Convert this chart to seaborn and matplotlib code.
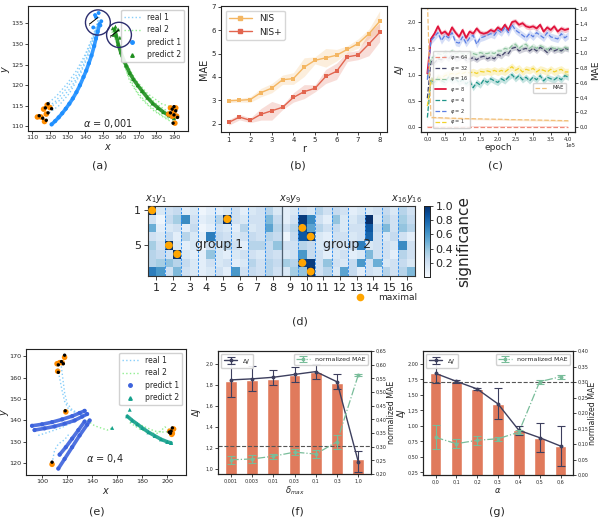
import numpy as np
import pandas as pd
import matplotlib
matplotlib.use("Agg")
import matplotlib.pyplot as plt
import seaborn as sns
from matplotlib.patches import Ellipse
from matplotlib.lines import Line2D
from matplotlib.ticker import FuncFormatter, MultipleLocator

# ---------------- data ----------------
# (a) trajectories, alpha = 0.001
real1_a = [
    ([118, 124, 130, 135, 140, 144, 146.5, 148], [115.2, 117.5, 120.5, 123.5, 127.5, 131.5, 134.5, 137]),
    ([116, 123, 129, 135, 140, 143.5, 146, 147.5], [114, 116, 119, 122.5, 127, 131, 134, 136]),
    ([118, 125, 131, 137, 141, 144.5, 146.5], [112.8, 115, 118, 122.5, 126.5, 131, 134.5]),
    ([120, 126, 132, 137, 141, 144, 146], [114.5, 116.5, 119.5, 123, 127, 131, 133.5]),
]
real2_a = [
    ([155, 158, 162, 167, 173, 180, 187, 191], [133, 130, 126, 122, 118.5, 115.5, 113.5, 113]),
    ([157, 160, 164, 169, 175, 182, 188], [131.5, 127, 122.5, 118.5, 115.5, 113, 111.5]),
    ([156, 159, 163, 168, 175, 183, 190], [134, 129.5, 125.5, 121.5, 118, 115.5, 114.5]),
    ([158, 161, 165, 171, 178, 185, 189], [132, 126.5, 121, 117, 114, 112, 111]),
]
pred1_a_x = [121, 123, 125, 127, 129, 131, 133, 135, 137, 139, 140.5, 142, 143.5, 145, 146, 147, 148]
pred1_a_y = [110.5, 111.3, 112.2, 113.2, 114.3, 115.5, 116.8, 118.3, 120, 122, 123.5, 125.3, 127.2, 129.5, 131.3, 133, 134.8]
pred1_a_extra_x = [144.5, 146, 147.5, 149, 145.5, 148.5]
pred1_a_extra_y = [134, 136.5, 137.5, 135.5, 137, 134.5]
pred2_a_x = [156.5, 157.5, 158.5, 160, 161.5, 163, 165, 167, 169.5, 172, 175, 178, 181, 184, 187, 190]
pred2_a_y = [133.5, 132, 130, 128, 126.3, 124.8, 123, 121.5, 120, 118.6, 117, 115.6, 114.5, 113.5, 112.7, 112]
pred2_a_extra_x = [155.5, 157, 158.5, 156, 159.5]
pred2_a_extra_y = [133.8, 134.2, 133.5, 132.2, 131.5]
start_a_x = [113, 115, 117, 118, 116.5, 118.5, 120, 188, 190, 191.5, 189, 190.5, 191, 187]
start_a_y = [112.3, 112.3, 111.2, 113, 114.2, 115.2, 114.6, 114.5, 113.5, 112.5, 112.5, 110.8, 114.5, 113]
black_a_x = [114, 116, 118, 119, 117.5, 119, 121, 189, 191, 192, 190, 189.5, 190, 188]
black_a_y = [112.6, 112.0, 111.5, 113.3, 114.5, 115.5, 114.3, 114.2, 113.8, 112.2, 112.8, 110.8, 114.8, 113.3]

# (b) MAE vs r
r_vals = [1, 1.5, 2, 2.5, 3, 3.5, 4, 4.5, 5, 5.5, 6, 6.5, 7, 7.5, 8]
nis = [2.98, 3.0, 3.03, 3.33, 3.52, 3.88, 3.93, 4.42, 4.71, 4.82, 4.93, 5.18, 5.43, 5.85, 6.38]
nis_err = [0.08, 0.08, 0.12, 0.18, 0.2, 0.2, 0.25, 0.4, 0.15, 0.4, 0.25, 0.15, 0.2, 0.2, 0.45]
nisp = [2.05, 2.28, 2.14, 2.40, 2.55, 2.70, 3.12, 3.37, 3.51, 4.02, 4.24, 4.86, 4.94, 5.41, 5.91]
nisp_err = [0.12, 0.12, 0.1, 0.25, 0.4, 0.1, 0.2, 0.3, 0.15, 0.3, 0.35, 0.2, 0.2, 0.5, 0.4]

# (c) Delta J over training
epoch_c = np.arange(41) * 1e4
phi64 = [0.0] * 41
phi32 = [0.55, 1.25, 1.22, 1.3, 1.28, 1.35, 1.3, 1.38, 1.3, 1.32, 1.35, 1.27, 1.3, 1.32, 1.28, 1.33, 1.35, 1.3, 1.33, 1.3, 1.38, 1.35, 1.42, 1.4, 1.5, 1.52, 1.45, 1.48, 1.5, 1.45, 1.5, 1.45, 1.52, 1.48, 1.42, 1.5, 1.45, 1.48, 1.45, 1.5, 1.48]
phi16 = [0.95, 1.3, 1.35, 1.4, 1.38, 1.42, 1.4, 1.45, 1.4, 1.42, 1.4, 1.38, 1.42, 1.4, 1.38, 1.42, 1.4, 1.4, 1.42, 1.4, 1.45, 1.45, 1.5, 1.48, 1.55, 1.58, 1.5, 1.55, 1.58, 1.5, 1.55, 1.5, 1.55, 1.52, 1.48, 1.52, 1.5, 1.5, 1.48, 1.52, 1.5]
phi8 = [1.02, 1.68, 1.78, 1.92, 1.78, 1.82, 1.75, 1.9, 1.8, 1.72, 1.85, 1.7, 1.82, 1.78, 1.88, 1.8, 1.78, 1.8, 1.85, 1.82, 1.9, 1.85, 1.95, 1.85, 2.0, 2.02, 1.95, 1.98, 1.92, 1.9, 1.92, 1.88, 1.95, 1.82, 1.9, 1.85, 1.92, 1.82, 1.88, 1.85, 1.87]
phi4 = [0.18, 0.9, 0.85, 0.95, 0.88, 0.85, 0.95, 0.88, 0.92, 0.85, 0.9, 0.82, 0.88, 0.75, 0.85, 0.8, 0.9, 0.85, 0.92, 0.88, 0.85, 0.92, 0.88, 0.95, 1.0, 0.92, 0.98, 0.9, 0.95, 0.88, 0.95, 0.9, 0.98, 0.88, 0.95, 0.92, 0.9, 0.95, 0.9, 0.98, 0.95]
phi2 = [0.9, 1.65, 1.72, 1.8, 1.65, 1.75, 1.7, 1.8, 1.62, 1.6, 1.72, 1.6, 1.7, 1.75, 1.58, 1.7, 1.72, 1.75, 1.78, 1.75, 1.85, 1.8, 1.9, 1.8, 1.95, 1.85, 1.8, 1.75, 1.7, 1.78, 1.72, 1.8, 1.75, 1.7, 1.8, 1.72, 1.7, 1.68, 1.78, 1.7, 1.75]
phi1 = [0.4, 0.88, 0.9, 0.95, 0.92, 0.98, 1.0, 1.02, 1.0, 1.03, 1.02, 1.05, 1.03, 1.05, 1.02, 1.06, 1.05, 1.07, 1.05, 1.08, 1.05, 1.08, 1.05, 1.1, 1.15, 1.08, 1.12, 1.05, 1.1, 1.08, 1.12, 1.05, 1.1, 1.08, 1.05, 1.1, 1.05, 1.08, 1.1, 1.05, 1.05]
phi_spread = [0.01, 0.05, 0.05, 0.05, 0.06, 0.07, 0.07]
mae_c = [1.75, 0.13, 0.128, 0.127, 0.124, 0.123, 0.12, 0.119, 0.118, 0.116, 0.116, 0.114, 0.113, 0.112, 0.11, 0.11, 0.109, 0.107, 0.107, 0.105, 0.105, 0.104, 0.103, 0.101, 0.1, 0.1, 0.099, 0.097, 0.097, 0.096, 0.095, 0.094, 0.093, 0.092, 0.091, 0.09, 0.089, 0.088, 0.087, 0.086, 0.085]
phi_labels = [r"$\varphi$ = 64", r"$\varphi$ = 32", r"$\varphi$ = 16", r"$\varphi$ = 8",
              r"$\varphi$ = 4", r"$\varphi$ = 2", r"$\varphi$ = 1"]

# (d) significance heatmap: 8 latent rows x 32 micro columns
sig = [
    [1.0, 0.15, 0.2, 0.25, 0.1, 0.15, 0.05, 0.1, 0.1, 0.15, 0.2, 0.1, 0.15, 0.2, 0.3, 0.15, 0.1, 0.15, 0.2, 0.15, 0.3, 0.2, 0.25, 0.2, 0.1, 0.15, 0.15, 0.2, 0.25, 0.15, 0.3, 0.2],
    [0.2, 0.05, 0.25, 0.35, 0.65, 0.2, 0.1, 0.15, 0.3, 1.0, 0.2, 0.15, 0.2, 0.2, 0.45, 0.25, 0.1, 0.2, 0.95, 0.65, 0.2, 0.1, 0.4, 0.15, 0.15, 0.25, 1.0, 0.15, 0.3, 0.2, 0.35, 0.25],
    [0.5, 0.1, 0.15, 0.2, 0.1, 0.25, 0.05, 0.1, 0.2, 0.15, 0.1, 0.3, 0.15, 0.2, 0.55, 0.3, 0.2, 0.3, 0.9, 0.55, 0.3, 0.2, 0.25, 0.15, 0.2, 0.2, 0.85, 0.25, 0.45, 0.2, 0.4, 0.3],
    [0.2, 0.15, 0.25, 0.1, 0.3, 0.15, 0.1, 0.7, 0.25, 0.2, 0.15, 0.2, 0.25, 0.2, 0.3, 0.25, 0.05, 0.25, 0.85, 0.95, 0.15, 0.1, 0.2, 0.2, 0.15, 0.2, 0.8, 0.2, 0.15, 0.25, 0.2, 0.1],
    [0.35, 0.2, 1.0, 0.15, 0.1, 0.15, 0.05, 0.2, 0.15, 0.3, 0.2, 0.1, 0.3, 0.3, 0.25, 0.4, 0.2, 0.2, 0.3, 0.25, 0.15, 0.2, 0.2, 0.15, 0.25, 0.7, 0.15, 0.2, 0.2, 0.15, 0.65, 0.2],
    [0.3, 0.25, 0.2, 1.0, 0.15, 0.1, 0.1, 0.4, 0.15, 0.1, 0.15, 0.2, 0.2, 0.15, 0.25, 0.2, 0.15, 0.2, 0.6, 0.25, 0.2, 0.1, 0.15, 0.2, 0.1, 0.15, 0.45, 0.2, 0.2, 0.1, 0.3, 0.2],
    [0.3, 0.35, 0.4, 0.3, 0.25, 0.15, 0.1, 0.2, 0.15, 0.2, 0.1, 0.15, 0.3, 0.2, 0.3, 0.25, 0.35, 0.3, 0.95, 0.95, 0.2, 0.4, 0.2, 0.15, 0.25, 0.6, 0.2, 0.5, 0.15, 0.2, 0.25, 0.15],
    [0.7, 0.6, 0.2, 0.45, 0.2, 0.15, 0.1, 0.15, 0.2, 0.1, 0.6, 0.2, 0.25, 0.2, 0.3, 0.2, 0.15, 0.35, 0.4, 1.0, 0.2, 0.3, 0.15, 0.55, 0.25, 0.1, 0.2, 0.15, 0.3, 0.2, 0.3, 0.45],
]
max_rows = [0, 1, 4, 5, 2, 3, 6, 7]
max_cols = [0, 9, 2, 3, 18, 19, 18, 19]
bird_ids = list(range(1, 17))

# (e) trajectories, alpha = 0.4
real1_e = [
    ([112, 114, 116, 118, 121, 127, 133], [166, 160, 154, 149, 145.5, 143.5, 143]),
    ([115, 116.5, 118, 120, 124, 130, 135], [167, 160, 153, 148, 145, 143, 142.5]),
    ([97, 105, 115, 124, 131, 136], [133, 134.5, 136.5, 139, 141.5, 143]),
    ([108, 110, 113, 118, 122], [120, 126, 129, 131, 134]),
]
real2_e = [
    ([136, 142, 147, 152, 156], [140, 137.5, 136.5, 135.5, 136.5]),
    ([169, 175, 182, 190, 198, 205], [141, 139, 137, 135, 134.5, 135.5]),
    ([170, 178, 186, 193, 198, 203], [139, 136, 134, 134, 137, 135]),
]
pred1_e = [
    ([92, 100, 108, 116, 124, 130, 134], [137.5, 138.2, 139.2, 140.5, 142, 143.5, 144.5]),
    ([94, 102, 110, 118, 126, 132, 136], [135.5, 136.3, 137.2, 138.5, 140, 141.8, 143]),
    ([114, 119, 124, 129, 134], [124, 127.5, 131.5, 135.5, 139.5]),
    ([113, 118, 124, 130, 136, 138], [117.5, 122, 127.5, 133, 138, 140]),
]
pred2_e_x = [168, 172, 176, 180, 185, 190, 195, 200, 203]
pred2_e_y = [142, 140, 138.3, 136.5, 134.5, 132.8, 131.2, 130, 129.5]
pred2_e_extra_x = [170, 156]
pred2_e_extra_y = [145, 136.5]
start_e_x = [112, 114, 116, 118, 112.5, 119, 108, 202, 204, 205, 203.5]
start_e_y = [166.5, 167, 167, 169.5, 163, 144, 119.5, 135, 134, 136, 133.5]
black_e_x = [113, 115.5, 117, 118, 113, 118.5, 108, 201.5, 203, 204, 202.5]
black_e_y = [166, 167.5, 166.5, 170.5, 162.5, 144.5, 120.5, 134.5, 135, 136.5, 134]

# (f) delta_max sweep
delta_cats = ["0,001", "0,003", "0,01", "0,03", "0,1", "0,3", "1,0"]
dj_bar_f = [1.842, 1.848, 1.86, 1.896, 1.92, 1.82, 1.10]
dj_f = [1.848, 1.858, 1.873, 1.90, 1.927, 1.83, 1.07]
dj_err_f = [0.16, 0.12, 0.07, 0.07, 0.075, 0.07, 0.1]
mae_f = [0.252, 0.255, 0.265, 0.28, 0.273, 0.318, 0.562]
mae_err_f = [0.015, 0.015, 0.01, 0.01, 0.015, 0.025, 0.003]
ref_f = 1.215

# (g) alpha sweep
alpha_cats = ["0,0", "0,1", "0,2", "0,3", "0,4", "0,5", "0,6"]
dj_g = [1.849, 1.72, 1.597, 1.355, 0.93, 0.81, 0.675]
dj_err_g = [0.15, 0.02, 0.02, 0.25, 0.075, 0.23, 0.33]
mae_g = [0.1215, 0.101, 0.112, 0.117, 0.138, 0.301, 0.317]
mae_err_g = [0.039, 0.015, 0.015, 0.007, 0.007, 0.007, 0.006]
ref_g = 1.71

# ---------------- style ----------------
sns.set_style("ticks")
plt.rcParams['font.family'] = ['DejaVu Sans']
plt.rcParams['axes.edgecolor'] = '#222222'
plt.rcParams['axes.linewidth'] = 0.8
plt.rcParams['xtick.major.size'] = 2
plt.rcParams['ytick.major.size'] = 2
plt.rcParams['xtick.major.width'] = 0.6
plt.rcParams['ytick.major.width'] = 0.6
plt.rcParams['mathtext.fontset'] = 'dejavusans'


def comma(fmt):
    return FuncFormatter(lambda v, p: (fmt % v).replace('.', ','))


fig = plt.figure(figsize=(6, 5.21), dpi=100)


def rect(l, r, t, b):
    return [l / 600, 1 - b / 521, (r - l) / 600, (b - t) / 521]


def traj_panel(ax, real1, real2, c1, c2, pred_lines1, pred_lines2, extra1, extra2,
               start, black, alpha_text, text_xy, xlim, ylim, xt, yt, m2, ylab_x):
    for xs, ys in real1:
        ax.plot(xs, ys, ls=':', color='#87cefa', lw=1.0, zorder=1)
    for xs, ys in real2:
        ax.plot(xs, ys, ls=':', color='#90ee90', lw=1.0, zorder=1)
    for xs, ys in pred_lines1:
        ax.plot(xs, ys, color=c1, lw=2.6, alpha=0.9, zorder=2)
        sns.scatterplot(x=xs, y=ys, ax=ax, color=c1, s=9, edgecolor='none', zorder=3)
    for xs, ys in pred_lines2:
        ax.plot(xs, ys, color=c2, lw=2.6, alpha=0.9, zorder=2)
        sns.scatterplot(x=xs, y=ys, ax=ax, color=c2, s=9, marker=m2, edgecolor='none', zorder=3)
    if extra1 is not None:
        sns.scatterplot(x=extra1[0], y=extra1[1], ax=ax, color=c1, s=8, edgecolor='none', zorder=3)
    if extra2 is not None:
        sns.scatterplot(x=extra2[0], y=extra2[1], ax=ax, color=c2, s=8, marker=m2, edgecolor='none', zorder=3)
    sns.scatterplot(x=start[0], y=start[1], ax=ax, color='#ff8c00', s=16, edgecolor='none', zorder=4)
    sns.scatterplot(x=black[0], y=black[1], ax=ax, color='black', s=6, edgecolor='none', zorder=5)
    ax.text(text_xy[0], text_xy[1], alpha_text, fontsize=7, ha='center', va='center')
    ax.set_xlim(*xlim)
    ax.set_ylim(*ylim)
    ax.set_xticks(xt)
    ax.set_yticks(yt)
    ax.tick_params(labelsize=4.6, pad=1.2)
    ax.set_xlabel(r"$x$", fontsize=7, labelpad=1)
    ax.set_ylabel(r"$y$", fontsize=7)
    ax.yaxis.set_label_coords(ylab_x, 0.5)
    handles = [Line2D([], [], ls=':', color='#87cefa', lw=1.0),
               Line2D([], [], ls=':', color='#90ee90', lw=1.0),
               Line2D([], [], ls='', marker='o', color=c1, ms=2.5),
               Line2D([], [], ls='', marker=m2, color=c2, ms=2.5)]
    ax.legend(handles, ['real 1', 'real 2', 'predict 1', 'predict 2'], loc='upper right',
              fontsize=5.5, handlelength=2.2, borderpad=0.4, labelspacing=0.45, framealpha=0.9)


# ---------------- (a) ----------------
axa = fig.add_axes(rect(28, 188, 6, 131))
traj_panel(axa, real1_a, real2_a, '#1e8fff', '#1f8f1f',
           [(pred1_a_x, pred1_a_y)], [(pred2_a_x, pred2_a_y)],
           (pred1_a_extra_x, pred1_a_extra_y), (pred2_a_extra_x, pred2_a_extra_y),
           (start_a_x, start_a_y), (black_a_x, black_a_y),
           r"$\alpha$ = 0,001", (153, 110.6), (107.7, 197.9), (108.9, 139.2),
           range(110, 200, 10), range(110, 140, 5), '^', -0.103)
for cx, cy in [(147.1, 135.2), (159.0, 132.2)]:
    axa.add_patch(Ellipse((cx, cy), 14, 6.1, fill=False, ec='#2b2d6e', lw=1.0, zorder=6))
    axa.plot([cx - 4.5, cx], [cy - 0.3, cy + 1.2], color='black', lw=0.7, zorder=6)
    axa.text(cx - 4.8, cy - 0.5, "r", fontsize=4, ha='center', va='center', zorder=6)

# ---------------- (b) ----------------
axb = fig.add_axes(rect(221, 387, 6, 132))
df_b = pd.DataFrame({'r': r_vals * 2, 'MAE': nis + nisp,
                     'method': ['NIS'] * len(nis) + ['NIS+'] * len(nisp)})
pal_b = {'NIS': '#f4b662', 'NIS+': '#e2654f'}
sns.lineplot(data=df_b, x='r', y='MAE', hue='method', palette=pal_b, marker='s',
             markersize=2.5, markeredgewidth=0, lw=1.0, ax=axb, legend=False)
for vals, err, key in [(nis, nis_err, 'NIS'), (nisp, nisp_err, 'NIS+')]:
    v = np.array(vals)
    e = np.array(err)
    axb.fill_between(r_vals, v - e, v + e, color=pal_b[key], alpha=0.22, lw=0)
hb = [Line2D([], [], color=pal_b[k], marker='s', ms=2.5, lw=1.0) for k in ['NIS', 'NIS+']]
axb.legend(hb, ['NIS', 'NIS+'], loc='upper left', fontsize=6.5, handlelength=2.5)
axb.set_xlim(0.644, 8.34)
axb.set_ylim(1.64, 7.04)
axb.set_xticks(range(1, 9))
axb.set_yticks(range(2, 8))
axb.tick_params(labelsize=5, pad=1.5)
axb.set_xlabel("r", fontsize=7, labelpad=1)
axb.set_ylabel("MAE", fontsize=7, labelpad=2)

# ---------------- (c) ----------------
axc = fig.add_axes(rect(421, 575, 8, 132))
axc2 = axc.twinx()
series_c = [phi64, phi32, phi16, phi8, phi4, phi2, phi1]
colors_c = ['#f08a7a', '#45466b', '#8fc4a0', '#e0143c', '#1f968a', '#5b7fe3', '#f3d22a']
styles_c = ['--', '--', '--', '-', '--', '--', '--']
widths_c = [0.9, 0.9, 0.9, 1.3, 0.9, 0.9, 0.9]
for vals, sp, col, ls, lw in zip(series_c, phi_spread, colors_c, styles_c, widths_c):
    v = np.array(vals)
    sns.lineplot(x=epoch_c, y=v, ax=axc, color=col, linestyle=ls, lw=lw)
    axc.fill_between(epoch_c, v - sp, v + sp, color=col, alpha=0.25, lw=0)
mae_arr = np.array(mae_c)
sns.lineplot(x=epoch_c, y=mae_arr, ax=axc2, color='#f2c07a', linestyle='--', lw=0.9)
axc2.fill_between(epoch_c, mae_arr - 0.012, mae_arr + 0.012, color='#f2c07a', alpha=0.3, lw=0)
axc.set_xlim(-0.18e5, 4.19e5)
axc.set_ylim(-0.096, 2.27)
axc2.set_ylim(-0.068, 1.614)
axc.set_xticks(np.arange(0, 4.01e5, 0.5e5))
axc.xaxis.set_major_formatter(FuncFormatter(lambda v, p: ("%.1f" % (v / 1e5)).replace('.', ',')))
axc.set_yticks([0, 0.5, 1.0, 1.5, 2.0])
axc.yaxis.set_major_formatter(comma("%.1f"))
axc2.set_yticks(np.arange(0, 1.61, 0.2))
axc2.yaxis.set_major_formatter(comma("%.1f"))
axc.tick_params(labelsize=3.8, pad=1.5)
axc2.tick_params(labelsize=3.8, pad=1.5)
axc.set_xlabel("epoch", fontsize=6.5, labelpad=1)
axc.set_ylabel(r"$\Delta J$", fontsize=6.5, labelpad=1)
axc2.set_ylabel("MAE", fontsize=6.5, labelpad=2)
axc.text(1.0, -0.085, "1e5", transform=axc.transAxes, fontsize=3.8, ha='right', va='top')
hc = [Line2D([], [], color=c, ls=s, lw=w) for c, s, w in zip(colors_c, styles_c, widths_c)]
axc.legend(hc, phi_labels, loc='lower left', bbox_to_anchor=(0.06, 0.01), fontsize=3.6,
           handlelength=2.2, labelspacing=0.35, borderpad=0.4, framealpha=0.85)
axc2.legend([Line2D([], [], color='#f2c07a', ls='--', lw=0.9)], ['MAE'], loc='center left',
            bbox_to_anchor=(0.71, 0.355), fontsize=3.8, handlelength=2.5, framealpha=0.85)

# ---------------- (d) ----------------
axd = fig.add_axes(rect(148, 415, 206, 276))
cax = fig.add_axes(rect(424, 430, 206, 277))
sns.heatmap(np.array(sig), cmap='Blues', vmin=0, vmax=1, ax=axd, cbar_ax=cax,
            xticklabels=False, yticklabels=False, linewidths=0)
for b in range(2, 32, 2):
    if b == 16:
        axd.axvline(b, color='#4f6070', lw=0.9, ls='-')
    else:
        axd.axvline(b, color='#2f8ff0', lw=0.7, ls=(0, (2.5, 1.5)))
sns.scatterplot(x=np.array(max_cols) + 0.5, y=np.array(max_rows) + 0.5, ax=axd,
                color='#ffa500', s=32, edgecolor='none', zorder=5)
axd.set_xlim(0, 32)
axd.set_ylim(8, 0)
axd.set_xticks([2 * k - 1 for k in bird_ids])
axd.set_xticklabels([str(k) for k in bird_ids], fontsize=8)
axd.set_yticks([0.5, 4.5])
axd.set_yticklabels(['1', '5'], fontsize=8, rotation=0)
axd.tick_params(length=3, width=0.6, pad=2)
for s in axd.spines.values():
    s.set_visible(True)
    s.set_linewidth(0.8)
    s.set_color('#333333')
axd.set_xlabel("birds ID (micro)", fontsize=11, labelpad=2)
axd.set_ylabel("latent (macro)", fontsize=11, labelpad=4)
axd.text(1, -0.15, r"$x_1y_1$", ha='center', va='bottom', fontsize=7)
axd.text(17, -0.15, r"$x_9y_9$", ha='center', va='bottom', fontsize=7)
axd.text(31, -0.15, r"$x_{16}y_{16}$", ha='center', va='bottom', fontsize=7)
axd.text(8.5, 4.45, "group 1", ha='center', va='center', fontsize=9)
axd.text(23.8, 4.45, "group 2", ha='center', va='center', fontsize=9)
cax.set_yticks([0.2, 0.4, 0.6, 0.8, 1.0])
cax.set_yticklabels(["0.2", "0.4", "0.6", "0.8", "1.0"])
cax.tick_params(labelsize=8, length=2.5, pad=1.5)
cax.set_ylabel("significance", fontsize=11, labelpad=2)
for s in cax.spines.values():
    s.set_visible(True)
    s.set_linewidth(0.6)
hm = Line2D([], [], ls='', marker='o', markerfacecolor='#ffa500', markeredgecolor='none', ms=5.5)
axd.legend([hm], ['maximal'], loc='upper left', bbox_to_anchor=(0.76, -0.25), frameon=False,
           fontsize=6.5, handletextpad=1.0, borderaxespad=0, borderpad=0)

# ---------------- (e) ----------------
axe = fig.add_axes(rect(26, 186, 349, 475))
traj_panel(axe, real1_e, real2_e, '#3c62dc', '#14a08c',
           pred1_e, [(pred2_e_x, pred2_e_y)], None, (pred2_e_extra_x, pred2_e_extra_y),
           (start_e_x, start_e_y), (black_e_x, black_e_y),
           r"$\alpha$ = 0,4", (150, 122), (87.2, 214.9), (114.5, 173.4),
           range(100, 220, 20), range(120, 180, 10), '^', -0.095)


# ---------------- (f), (g) ----------------
def bar_panel(ax, cats, bars, dj, dj_err, mae, mae_err, ref, ylim, yticks, yfmt,
              y2lim, y2ticks, xlabel, ylab_x, y2lab_x):
    sns.barplot(x=cats, y=bars, ax=ax, color='#e07a5c', width=0.55, saturation=1, zorder=1)
    pos = np.arange(len(cats))
    ax.errorbar(pos, dj, yerr=dj_err, color='#3d3f5e', marker='o', ms=1.8, lw=1.0,
                capsize=3, capthick=0.8, elinewidth=0.8, label=r'$\Delta J$', zorder=3)
    ax.axhline(ref, color='#555555', ls='--', lw=0.8, zorder=2)
    ax.set_ylim(*ylim)
    ax.set_xlim(-0.6, len(cats) - 0.4)
    ax.set_yticks(yticks)
    ax.yaxis.set_major_formatter(comma(yfmt))
    ax2 = ax.twinx()
    ax2.errorbar(pos, mae, yerr=mae_err, color='#79bd9a', ls='-.', marker='o', ms=1.8, lw=0.9,
                 capsize=3, capthick=0.8, elinewidth=0.8, label='normalized MAE')
    ax2.set_ylim(*y2lim)
    ax2.set_yticks(y2ticks)
    ax2.yaxis.set_major_formatter(comma("%.2f"))
    ax.tick_params(labelsize=3.5, pad=1.2)
    ax2.tick_params(labelsize=3.5, pad=1.2)
    ax.set_xlabel(xlabel, fontsize=6, labelpad=1)
    ax.set_ylabel(r"$\Delta J$", fontsize=6)
    ax.yaxis.set_label_coords(ylab_x, 0.5)
    ax2.set_ylabel("normalized MAE", fontsize=5.7)
    ax2.yaxis.set_label_coords(y2lab_x, 0.5)
    ax.legend(loc='upper left', fontsize=4.5, handlelength=2.2, borderpad=0.4, framealpha=0.9)
    ax2.legend(loc='upper right', fontsize=4.5, handlelength=2.2, borderpad=0.4, framealpha=0.9)


axf = fig.add_axes(rect(218, 371, 351, 474))
bar_panel(axf, delta_cats, dj_bar_f, dj_f, dj_err_f, mae_f, mae_err_f, ref_f,
          (0.953, 2.123), np.arange(1.0, 2.01, 0.2), "%.1f",
          (0.20, 0.65), np.arange(0.20, 0.651, 0.05), r"$\delta_{max}$", -0.1, 1.105)

axg = fig.add_axes(rect(423, 573, 351, 475))
bar_panel(axg, alpha_cats, dj_g, dj_g, dj_err_g, mae_g, mae_err_g, ref_g,
          (0.207, 2.21), np.arange(0.25, 2.01, 0.25), "%.2f",
          (0.0, 0.40), np.arange(0.0, 0.401, 0.05), r"$\alpha$", -0.1, 1.1)

# ---------------- panel labels ----------------
for lab, x, y in [("(a)", 100, 165), ("(b)", 298, 165), ("(c)", 495, 165), ("(d)", 300, 321),
                  ("(e)", 97, 512), ("(f)", 297, 512), ("(g)", 497, 512)]:
    fig.text(x / 600, 1 - y / 521, lab, ha='center', va='center', fontsize=8)

fig.savefig("out.png", dpi=100)
